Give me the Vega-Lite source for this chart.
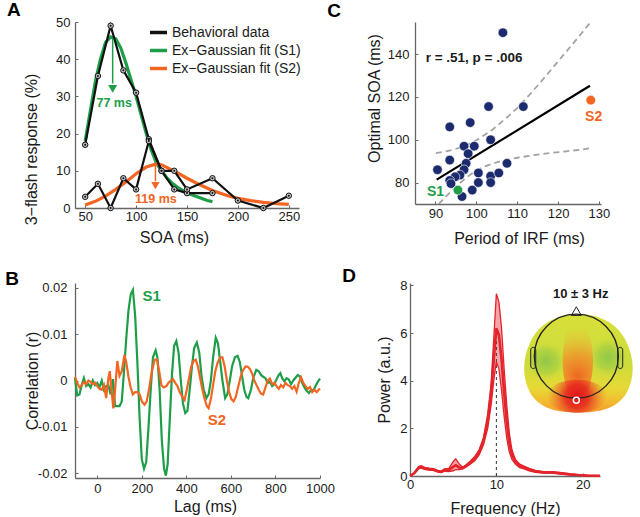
{
"$schema": "https://vega.github.io/schema/vega-lite/v6.json",
"padding": {"left": 5, "top": 1, "right": 0, "bottom": 0},
"config": {
  "font": "Liberation Sans",
  "view": {"stroke": null},
  "axis": {"grid": false, "labelOverlap": false, "labelFlush": false, "minExtent": 0, "domainColor": "#666666", "domainWidth": 1.3, "tickColor": "#666666", "tickSize": -3, "tickWidth": 1, "labelFontSize": 13, "labelColor": "#1a1a1a", "titleFontSize": 16, "titleFontWeight": "normal", "titleColor": "#1a1a1a", "labelFont": "Liberation Sans", "titleFont": "Liberation Sans"},
  "title": {"fontSize": 19, "fontWeight": "bold", "anchor": "start", "frame": "bounds", "color": "#000000", "font": "Liberation Sans"},
  "text": {"font": "Liberation Sans"}
},
"resolve": {"scale": {"color": "independent", "fill": "independent"}, "legend": {"color": "independent", "fill": "independent"}},
"datasets": {
  "behavA": [
    {"soa": 50, "pct": 17, "subj": "S1", "series": "Behavioral data"},
    {"soa": 62.5, "pct": 35.5, "subj": "S1", "series": "Behavioral data"},
    {"soa": 75, "pct": 49, "subj": "S1", "series": "Behavioral data"},
    {"soa": 87.5, "pct": 37, "subj": "S1", "series": "Behavioral data"},
    {"soa": 100, "pct": 31, "subj": "S1", "series": "Behavioral data"},
    {"soa": 112.5, "pct": 18.5, "subj": "S1", "series": "Behavioral data"},
    {"soa": 125, "pct": 10, "subj": "S1", "series": "Behavioral data"},
    {"soa": 137.5, "pct": 5, "subj": "S1", "series": "Behavioral data"},
    {"soa": 150, "pct": 4, "subj": "S1", "series": "Behavioral data"},
    {"soa": 175, "pct": 4, "subj": "S1", "series": "Behavioral data"},
    {"soa": 50, "pct": 3, "subj": "S2", "series": "Behavioral data"},
    {"soa": 62.5, "pct": 6.5, "subj": "S2", "series": "Behavioral data"},
    {"soa": 75, "pct": 0, "subj": "S2", "series": "Behavioral data"},
    {"soa": 87.5, "pct": 8, "subj": "S2", "series": "Behavioral data"},
    {"soa": 100, "pct": 5, "subj": "S2", "series": "Behavioral data"},
    {"soa": 112.5, "pct": 18, "subj": "S2", "series": "Behavioral data"},
    {"soa": 125, "pct": 10, "subj": "S2", "series": "Behavioral data"},
    {"soa": 137.5, "pct": 10, "subj": "S2", "series": "Behavioral data"},
    {"soa": 150, "pct": 5, "subj": "S2", "series": "Behavioral data"},
    {"soa": 175, "pct": 8, "subj": "S2", "series": "Behavioral data"},
    {"soa": 200, "pct": 2, "subj": "S2", "series": "Behavioral data"},
    {"soa": 225, "pct": 0, "subj": "S2", "series": "Behavioral data"},
    {"soa": 250, "pct": 3.3, "subj": "S2", "series": "Behavioral data"}
  ],
  "fitA": [
    {"soa": 50, "pct": 18, "series": "Ex−Gaussian fit (S1)"},
    {"soa": 55, "pct": 26, "series": "Ex−Gaussian fit (S1)"},
    {"soa": 60, "pct": 34, "series": "Ex−Gaussian fit (S1)"},
    {"soa": 65, "pct": 40, "series": "Ex−Gaussian fit (S1)"},
    {"soa": 70, "pct": 44.5, "series": "Ex−Gaussian fit (S1)"},
    {"soa": 75, "pct": 46, "series": "Ex−Gaussian fit (S1)"},
    {"soa": 80, "pct": 45.5, "series": "Ex−Gaussian fit (S1)"},
    {"soa": 85, "pct": 43, "series": "Ex−Gaussian fit (S1)"},
    {"soa": 90, "pct": 39, "series": "Ex−Gaussian fit (S1)"},
    {"soa": 95, "pct": 34.5, "series": "Ex−Gaussian fit (S1)"},
    {"soa": 100, "pct": 30, "series": "Ex−Gaussian fit (S1)"},
    {"soa": 105, "pct": 25, "series": "Ex−Gaussian fit (S1)"},
    {"soa": 110, "pct": 20, "series": "Ex−Gaussian fit (S1)"},
    {"soa": 115, "pct": 15.5, "series": "Ex−Gaussian fit (S1)"},
    {"soa": 120, "pct": 12, "series": "Ex−Gaussian fit (S1)"},
    {"soa": 125, "pct": 10, "series": "Ex−Gaussian fit (S1)"},
    {"soa": 130, "pct": 8.2, "series": "Ex−Gaussian fit (S1)"},
    {"soa": 135, "pct": 6.8, "series": "Ex−Gaussian fit (S1)"},
    {"soa": 140, "pct": 5.7, "series": "Ex−Gaussian fit (S1)"},
    {"soa": 150, "pct": 4, "series": "Ex−Gaussian fit (S1)"},
    {"soa": 160, "pct": 3, "series": "Ex−Gaussian fit (S1)"},
    {"soa": 170, "pct": 2, "series": "Ex−Gaussian fit (S1)"},
    {"soa": 175, "pct": 1.7, "series": "Ex−Gaussian fit (S1)"},
    {"soa": 50, "pct": 0.8, "series": "Ex−Gaussian fit (S2)"},
    {"soa": 60, "pct": 1.8, "series": "Ex−Gaussian fit (S2)"},
    {"soa": 70, "pct": 3.2, "series": "Ex−Gaussian fit (S2)"},
    {"soa": 80, "pct": 5, "series": "Ex−Gaussian fit (S2)"},
    {"soa": 90, "pct": 7, "series": "Ex−Gaussian fit (S2)"},
    {"soa": 100, "pct": 9.2, "series": "Ex−Gaussian fit (S2)"},
    {"soa": 110, "pct": 11, "series": "Ex−Gaussian fit (S2)"},
    {"soa": 119, "pct": 11.8, "series": "Ex−Gaussian fit (S2)"},
    {"soa": 125, "pct": 11.6, "series": "Ex−Gaussian fit (S2)"},
    {"soa": 132.5, "pct": 10.6, "series": "Ex−Gaussian fit (S2)"},
    {"soa": 140, "pct": 9.6, "series": "Ex−Gaussian fit (S2)"},
    {"soa": 150, "pct": 8, "series": "Ex−Gaussian fit (S2)"},
    {"soa": 160, "pct": 6.6, "series": "Ex−Gaussian fit (S2)"},
    {"soa": 175, "pct": 4.7, "series": "Ex−Gaussian fit (S2)"},
    {"soa": 190, "pct": 3.3, "series": "Ex−Gaussian fit (S2)"},
    {"soa": 200, "pct": 2.6, "series": "Ex−Gaussian fit (S2)"},
    {"soa": 212.5, "pct": 2, "series": "Ex−Gaussian fit (S2)"},
    {"soa": 225, "pct": 1.5, "series": "Ex−Gaussian fit (S2)"},
    {"soa": 237.5, "pct": 1.2, "series": "Ex−Gaussian fit (S2)"},
    {"soa": 250, "pct": 1.0, "series": "Ex−Gaussian fit (S2)"}
  ],
  "corrB": [
    {"lag": -100, "r": 0.0005, "subj": "S1"}, {"lag": -90, "r": -0.0032, "subj": "S1"}, {"lag": -80, "r": -0.003, "subj": "S1"}, {"lag": -70, "r": -0.001, "subj": "S1"},
    {"lag": -60, "r": 0.0005, "subj": "S1"}, {"lag": -50, "r": -0.0012, "subj": "S1"}, {"lag": -40, "r": -0.0008, "subj": "S1"}, {"lag": -30, "r": -0.0015, "subj": "S1"},
    {"lag": -20, "r": 0, "subj": "S1"}, {"lag": -10, "r": -0.001, "subj": "S1"}, {"lag": 0, "r": -0.0005, "subj": "S1"}, {"lag": 10, "r": -0.0015, "subj": "S1"},
    {"lag": 20, "r": 0, "subj": "S1"}, {"lag": 30, "r": -0.002, "subj": "S1"}, {"lag": 40, "r": -0.0012, "subj": "S1"}, {"lag": 50, "r": -0.001, "subj": "S1"},
    {"lag": 60, "r": -0.003, "subj": "S1"}, {"lag": 70, "r": 0.0003, "subj": "S1"}, {"lag": 80, "r": -0.0055, "subj": "S1"}, {"lag": 90, "r": -0.0055, "subj": "S1"},
    {"lag": 100, "r": -0.0055, "subj": "S1"}, {"lag": 110, "r": -0.0045, "subj": "S1"}, {"lag": 120, "r": 0.002, "subj": "S1"}, {"lag": 130, "r": 0.009, "subj": "S1"},
    {"lag": 140, "r": 0.015, "subj": "S1"}, {"lag": 150, "r": 0.0185, "subj": "S1"}, {"lag": 160, "r": 0.0195, "subj": "S1"}, {"lag": 170, "r": 0.014, "subj": "S1"},
    {"lag": 180, "r": 0.004, "subj": "S1"}, {"lag": 190, "r": -0.008, "subj": "S1"}, {"lag": 200, "r": -0.017, "subj": "S1"}, {"lag": 210, "r": -0.019, "subj": "S1"},
    {"lag": 220, "r": -0.0175, "subj": "S1"}, {"lag": 230, "r": -0.01, "subj": "S1"}, {"lag": 240, "r": -0.002, "subj": "S1"}, {"lag": 250, "r": 0.005, "subj": "S1"},
    {"lag": 262, "r": 0.0065, "subj": "S1"}, {"lag": 270, "r": 0.005, "subj": "S1"}, {"lag": 280, "r": -0.002, "subj": "S1"}, {"lag": 290, "r": -0.013, "subj": "S1"},
    {"lag": 300, "r": -0.019, "subj": "S1"}, {"lag": 308, "r": -0.0205, "subj": "S1"}, {"lag": 316, "r": -0.018, "subj": "S1"}, {"lag": 325, "r": -0.009, "subj": "S1"},
    {"lag": 335, "r": 0.001, "subj": "S1"}, {"lag": 345, "r": 0.0075, "subj": "S1"}, {"lag": 355, "r": 0.0085, "subj": "S1"}, {"lag": 365, "r": 0.006, "subj": "S1"},
    {"lag": 375, "r": 0, "subj": "S1"}, {"lag": 385, "r": -0.005, "subj": "S1"}, {"lag": 395, "r": -0.007, "subj": "S1"}, {"lag": 405, "r": -0.0065, "subj": "S1"},
    {"lag": 415, "r": -0.002, "subj": "S1"}, {"lag": 425, "r": 0.003, "subj": "S1"}, {"lag": 435, "r": 0.007, "subj": "S1"}, {"lag": 447, "r": 0.0082, "subj": "S1"},
    {"lag": 458, "r": 0.006, "subj": "S1"}, {"lag": 468, "r": 0.001, "subj": "S1"}, {"lag": 478, "r": -0.002, "subj": "S1"}, {"lag": 490, "r": -0.0038, "subj": "S1"},
    {"lag": 500, "r": -0.003, "subj": "S1"}, {"lag": 510, "r": 0, "subj": "S1"}, {"lag": 520, "r": 0.005, "subj": "S1"}, {"lag": 532, "r": 0.0092, "subj": "S1"},
    {"lag": 542, "r": 0.008, "subj": "S1"}, {"lag": 552, "r": 0.004, "subj": "S1"}, {"lag": 562, "r": 0, "subj": "S1"}, {"lag": 574, "r": -0.0038, "subj": "S1"},
    {"lag": 584, "r": -0.003, "subj": "S1"}, {"lag": 595, "r": 0, "subj": "S1"}, {"lag": 605, "r": 0.003, "subj": "S1"}, {"lag": 618, "r": 0.005, "subj": "S1"},
    {"lag": 630, "r": 0.0053, "subj": "S1"}, {"lag": 640, "r": 0.004, "subj": "S1"}, {"lag": 650, "r": 0.001, "subj": "S1"}, {"lag": 660, "r": -0.002, "subj": "S1"},
    {"lag": 670, "r": -0.0035, "subj": "S1"}, {"lag": 678, "r": -0.0038, "subj": "S1"}, {"lag": 690, "r": -0.002, "subj": "S1"}, {"lag": 700, "r": 0.0005, "subj": "S1"},
    {"lag": 714, "r": 0.0023, "subj": "S1"}, {"lag": 725, "r": 0.002, "subj": "S1"}, {"lag": 735, "r": 0.0012, "subj": "S1"}, {"lag": 745, "r": 0.0008, "subj": "S1"},
    {"lag": 755, "r": 0.0005, "subj": "S1"}, {"lag": 765, "r": -0.0005, "subj": "S1"}, {"lag": 775, "r": -0.0003, "subj": "S1"}, {"lag": 785, "r": -0.0012, "subj": "S1"},
    {"lag": 795, "r": -0.0008, "subj": "S1"}, {"lag": 805, "r": 0.0003, "subj": "S1"}, {"lag": 815, "r": 0.0012, "subj": "S1"}, {"lag": 822, "r": 0.0016, "subj": "S1"},
    {"lag": 830, "r": 0.0005, "subj": "S1"}, {"lag": 840, "r": -0.0002, "subj": "S1"}, {"lag": 850, "r": 0.0005, "subj": "S1"}, {"lag": 860, "r": 0.0002, "subj": "S1"},
    {"lag": 870, "r": -0.0008, "subj": "S1"}, {"lag": 880, "r": 0, "subj": "S1"}, {"lag": 890, "r": 0.0006, "subj": "S1"}, {"lag": 900, "r": 0.0012, "subj": "S1"},
    {"lag": 911, "r": 0.0008, "subj": "S1"}, {"lag": 920, "r": -0.0005, "subj": "S1"}, {"lag": 930, "r": -0.0015, "subj": "S1"}, {"lag": 940, "r": -0.0022, "subj": "S1"},
    {"lag": 950, "r": -0.0027, "subj": "S1"}, {"lag": 960, "r": -0.002, "subj": "S1"}, {"lag": 970, "r": -0.0022, "subj": "S1"}, {"lag": 980, "r": -0.0012, "subj": "S1"},
    {"lag": 990, "r": -0.0003, "subj": "S1"}, {"lag": 1000, "r": 0.0004, "subj": "S1"},
    {"lag": -100, "r": 0.0008, "subj": "S2"}, {"lag": -90, "r": -0.0005, "subj": "S2"}, {"lag": -80, "r": -0.0015, "subj": "S2"}, {"lag": -70, "r": -0.001, "subj": "S2"},
    {"lag": -60, "r": -0.0003, "subj": "S2"}, {"lag": -50, "r": -0.0008, "subj": "S2"}, {"lag": -40, "r": 0, "subj": "S2"}, {"lag": -30, "r": -0.0003, "subj": "S2"},
    {"lag": -20, "r": -0.0008, "subj": "S2"}, {"lag": -10, "r": -0.0005, "subj": "S2"}, {"lag": 0, "r": -0.0012, "subj": "S2"}, {"lag": 10, "r": -0.0018, "subj": "S2"},
    {"lag": 20, "r": -0.002, "subj": "S2"}, {"lag": 30, "r": -0.001, "subj": "S2"}, {"lag": 40, "r": -0.0038, "subj": "S2"}, {"lag": 50, "r": 0.0005, "subj": "S2"},
    {"lag": 56, "r": 0.002, "subj": "S2"}, {"lag": 64, "r": -0.002, "subj": "S2"}, {"lag": 72, "r": -0.006, "subj": "S2"}, {"lag": 80, "r": -0.002, "subj": "S2"},
    {"lag": 90, "r": 0.0042, "subj": "S2"}, {"lag": 100, "r": 0.001, "subj": "S2"}, {"lag": 110, "r": 0.002, "subj": "S2"}, {"lag": 122, "r": 0.0055, "subj": "S2"},
    {"lag": 130, "r": 0.004, "subj": "S2"}, {"lag": 140, "r": 0.0008, "subj": "S2"}, {"lag": 150, "r": -0.0015, "subj": "S2"}, {"lag": 160, "r": -0.003, "subj": "S2"},
    {"lag": 170, "r": -0.0025, "subj": "S2"}, {"lag": 180, "r": -0.0025, "subj": "S2"}, {"lag": 190, "r": -0.003, "subj": "S2"}, {"lag": 200, "r": -0.0045, "subj": "S2"},
    {"lag": 212, "r": -0.0052, "subj": "S2"}, {"lag": 222, "r": -0.0045, "subj": "S2"}, {"lag": 232, "r": -0.002, "subj": "S2"}, {"lag": 245, "r": 0.002, "subj": "S2"},
    {"lag": 258, "r": 0.0045, "subj": "S2"}, {"lag": 268, "r": 0.0045, "subj": "S2"}, {"lag": 278, "r": 0.002, "subj": "S2"}, {"lag": 288, "r": -0.001, "subj": "S2"},
    {"lag": 298, "r": -0.0015, "subj": "S2"}, {"lag": 310, "r": -0.0012, "subj": "S2"}, {"lag": 320, "r": -0.0005, "subj": "S2"}, {"lag": 330, "r": 0, "subj": "S2"},
    {"lag": 340, "r": 0.0003, "subj": "S2"}, {"lag": 350, "r": -0.0005, "subj": "S2"}, {"lag": 360, "r": -0.0012, "subj": "S2"}, {"lag": 370, "r": -0.0025, "subj": "S2"},
    {"lag": 382, "r": -0.0035, "subj": "S2"}, {"lag": 392, "r": -0.0042, "subj": "S2"}, {"lag": 402, "r": -0.002, "subj": "S2"}, {"lag": 412, "r": 0.0005, "subj": "S2"},
    {"lag": 422, "r": 0.003, "subj": "S2"}, {"lag": 432, "r": 0.0042, "subj": "S2"}, {"lag": 442, "r": 0.0045, "subj": "S2"}, {"lag": 452, "r": 0.003, "subj": "S2"},
    {"lag": 462, "r": 0.0005, "subj": "S2"}, {"lag": 472, "r": -0.002, "subj": "S2"}, {"lag": 482, "r": -0.004, "subj": "S2"}, {"lag": 492, "r": -0.0055, "subj": "S2"},
    {"lag": 500, "r": -0.006, "subj": "S2"}, {"lag": 510, "r": -0.004, "subj": "S2"}, {"lag": 520, "r": -0.001, "subj": "S2"}, {"lag": 530, "r": 0.002, "subj": "S2"},
    {"lag": 540, "r": 0.0038, "subj": "S2"}, {"lag": 552, "r": 0.005, "subj": "S2"}, {"lag": 562, "r": 0.005, "subj": "S2"}, {"lag": 572, "r": 0.003, "subj": "S2"},
    {"lag": 582, "r": 0, "subj": "S2"}, {"lag": 592, "r": -0.0025, "subj": "S2"}, {"lag": 602, "r": -0.004, "subj": "S2"}, {"lag": 612, "r": -0.0045, "subj": "S2"},
    {"lag": 622, "r": -0.0035, "subj": "S2"}, {"lag": 632, "r": -0.0015, "subj": "S2"}, {"lag": 642, "r": 0.0005, "subj": "S2"}, {"lag": 652, "r": 0.002, "subj": "S2"},
    {"lag": 665, "r": 0.003, "subj": "S2"}, {"lag": 675, "r": 0.003, "subj": "S2"}, {"lag": 685, "r": 0.0025, "subj": "S2"}, {"lag": 695, "r": 0.0015, "subj": "S2"},
    {"lag": 705, "r": 0, "subj": "S2"}, {"lag": 715, "r": -0.001, "subj": "S2"}, {"lag": 725, "r": -0.002, "subj": "S2"}, {"lag": 735, "r": -0.0028, "subj": "S2"},
    {"lag": 745, "r": -0.003, "subj": "S2"}, {"lag": 755, "r": -0.0015, "subj": "S2"}, {"lag": 765, "r": 0, "subj": "S2"}, {"lag": 775, "r": 0.0004, "subj": "S2"},
    {"lag": 785, "r": -0.0008, "subj": "S2"}, {"lag": 795, "r": -0.0005, "subj": "S2"}, {"lag": 805, "r": -0.0012, "subj": "S2"}, {"lag": 815, "r": -0.0018, "subj": "S2"},
    {"lag": 825, "r": -0.001, "subj": "S2"}, {"lag": 835, "r": -0.0015, "subj": "S2"}, {"lag": 845, "r": -0.0005, "subj": "S2"}, {"lag": 855, "r": -0.001, "subj": "S2"},
    {"lag": 865, "r": -0.0012, "subj": "S2"}, {"lag": 875, "r": -0.0018, "subj": "S2"}, {"lag": 885, "r": -0.0012, "subj": "S2"}, {"lag": 895, "r": -0.0024, "subj": "S2"},
    {"lag": 905, "r": -0.0005, "subj": "S2"}, {"lag": 915, "r": 0.0007, "subj": "S2"}, {"lag": 925, "r": -0.0005, "subj": "S2"}, {"lag": 935, "r": -0.0012, "subj": "S2"},
    {"lag": 945, "r": -0.0018, "subj": "S2"}, {"lag": 955, "r": -0.0014, "subj": "S2"}, {"lag": 965, "r": -0.0025, "subj": "S2"}, {"lag": 975, "r": -0.002, "subj": "S2"},
    {"lag": 985, "r": -0.0025, "subj": "S2"}, {"lag": 1000, "r": -0.0017, "subj": "S2"}
  ],
  "scatC": [
    {"period": 106.5, "soa": 150, "who": "other"}, {"period": 103, "soa": 115.5, "who": "other"}, {"period": 111.5, "soa": 115.5, "who": "other"},
    {"period": 93.5, "soa": 106, "who": "other"}, {"period": 98.5, "soa": 108, "who": "other"}, {"period": 97, "soa": 97, "who": "other"},
    {"period": 99.5, "soa": 97, "who": "other"}, {"period": 103.5, "soa": 100, "who": "other"}, {"period": 93.5, "soa": 90.5, "who": "other"},
    {"period": 98, "soa": 93.5, "who": "other"}, {"period": 97.5, "soa": 89, "who": "other"}, {"period": 90.5, "soa": 86, "who": "other"},
    {"period": 107.5, "soa": 89, "who": "other"}, {"period": 97, "soa": 86, "who": "other"}, {"period": 96, "soa": 83.5, "who": "other"},
    {"period": 94.8, "soa": 82.7, "who": "other"}, {"period": 93.5, "soa": 81, "who": "other"}, {"period": 93.8, "soa": 79.5, "who": "other"},
    {"period": 100.5, "soa": 84.5, "who": "other"}, {"period": 100.5, "soa": 80, "who": "other"}, {"period": 103.5, "soa": 83, "who": "other"},
    {"period": 103.5, "soa": 80, "who": "other"}, {"period": 105.5, "soa": 84.5, "who": "other"}, {"period": 99, "soa": 76.5, "who": "other"},
    {"period": 96.5, "soa": 73.5, "who": "other"},
    {"period": 95.5, "soa": 76.5, "who": "S1"}, {"period": 128, "soa": 118.5, "who": "S2"}
  ],
  "bandC": [
    {"period": 90.1, "soa": 93.8, "band": "upper"}, {"period": 92, "soa": 94.4, "band": "upper"}, {"period": 94, "soa": 95.2, "band": "upper"},
    {"period": 96, "soa": 96.3, "band": "upper"}, {"period": 98, "soa": 97.8, "band": "upper"}, {"period": 100, "soa": 99.8, "band": "upper"},
    {"period": 102, "soa": 102.2, "band": "upper"}, {"period": 104, "soa": 104.8, "band": "upper"}, {"period": 106, "soa": 108, "band": "upper"},
    {"period": 108, "soa": 111.3, "band": "upper"}, {"period": 110, "soa": 114.8, "band": "upper"}, {"period": 113, "soa": 121, "band": "upper"},
    {"period": 116, "soa": 127.5, "band": "upper"}, {"period": 120, "soa": 136.6, "band": "upper"}, {"period": 124, "soa": 145.7, "band": "upper"},
    {"period": 127.8, "soa": 154.5, "band": "upper"},
    {"period": 90.8, "soa": 70, "band": "lower"}, {"period": 92, "soa": 72.4, "band": "lower"}, {"period": 94, "soa": 76.3, "band": "lower"},
    {"period": 96, "soa": 79.8, "band": "lower"}, {"period": 98, "soa": 83, "band": "lower"}, {"period": 100, "soa": 85.6, "band": "lower"},
    {"period": 102, "soa": 87.5, "band": "lower"}, {"period": 104, "soa": 88.9, "band": "lower"}, {"period": 106, "soa": 90, "band": "lower"},
    {"period": 110, "soa": 91.6, "band": "lower"}, {"period": 114, "soa": 92.8, "band": "lower"}, {"period": 118, "soa": 93.8, "band": "lower"},
    {"period": 122, "soa": 94.6, "band": "lower"}, {"period": 126, "soa": 95.5, "band": "lower"}, {"period": 127.8, "soa": 96, "band": "lower"}
  ],
  "psd": [
    {"f": 0, "lo": 0, "mean": 0, "hi": 0}, {"f": 0.5, "lo": 0.1, "mean": 0.12, "hi": 0.14}, {"f": 1.0, "lo": 0.3, "mean": 0.35, "hi": 0.4},
    {"f": 1.3, "lo": 0.33, "mean": 0.38, "hi": 0.43}, {"f": 1.7, "lo": 0.28, "mean": 0.32, "hi": 0.36}, {"f": 2.2, "lo": 0.25, "mean": 0.29, "hi": 0.33},
    {"f": 2.7, "lo": 0.24, "mean": 0.27, "hi": 0.31}, {"f": 3.2, "lo": 0.17, "mean": 0.2, "hi": 0.24}, {"f": 3.6, "lo": 0.14, "mean": 0.17, "hi": 0.2},
    {"f": 4.0, "lo": 0.2, "mean": 0.26, "hi": 0.3}, {"f": 4.5, "lo": 0.18, "mean": 0.25, "hi": 0.32}, {"f": 5.0, "lo": 0.22, "mean": 0.38, "hi": 0.6},
    {"f": 5.3, "lo": 0.27, "mean": 0.45, "hi": 0.72}, {"f": 5.7, "lo": 0.27, "mean": 0.36, "hi": 0.5}, {"f": 6.1, "lo": 0.3, "mean": 0.33, "hi": 0.38},
    {"f": 6.5, "lo": 0.38, "mean": 0.42, "hi": 0.47}, {"f": 7.0, "lo": 0.5, "mean": 0.56, "hi": 0.63}, {"f": 7.5, "lo": 0.64, "mean": 0.72, "hi": 0.82},
    {"f": 8.0, "lo": 0.88, "mean": 0.98, "hi": 1.1}, {"f": 8.5, "lo": 1.3, "mean": 1.45, "hi": 1.6}, {"f": 9.0, "lo": 2.0, "mean": 2.3, "hi": 2.6},
    {"f": 9.4, "lo": 3.0, "mean": 3.5, "hi": 3.9}, {"f": 9.7, "lo": 4.0, "mean": 4.9, "hi": 5.8}, {"f": 10.0, "lo": 4.8, "mean": 6.2, "hi": 7.65},
    {"f": 10.3, "lo": 4.5, "mean": 5.9, "hi": 7.3}, {"f": 10.6, "lo": 3.6, "mean": 4.9, "hi": 6.2}, {"f": 10.9, "lo": 2.5, "mean": 3.5, "hi": 4.5},
    {"f": 11.2, "lo": 1.6, "mean": 2.3, "hi": 3.0}, {"f": 11.5, "lo": 1.0, "mean": 1.4, "hi": 1.8}, {"f": 11.8, "lo": 0.7, "mean": 0.9, "hi": 1.1},
    {"f": 12.2, "lo": 0.5, "mean": 0.6, "hi": 0.7}, {"f": 12.7, "lo": 0.35, "mean": 0.42, "hi": 0.5}, {"f": 13.2, "lo": 0.3, "mean": 0.35, "hi": 0.42},
    {"f": 13.8, "lo": 0.22, "mean": 0.27, "hi": 0.32}, {"f": 14.5, "lo": 0.15, "mean": 0.2, "hi": 0.24}, {"f": 15.5, "lo": 0.12, "mean": 0.15, "hi": 0.18},
    {"f": 16.5, "lo": 0.12, "mean": 0.15, "hi": 0.18}, {"f": 17.5, "lo": 0.08, "mean": 0.11, "hi": 0.14}, {"f": 18.5, "lo": 0.05, "mean": 0.07, "hi": 0.09},
    {"f": 19.5, "lo": 0.03, "mean": 0.04, "hi": 0.05}, {"f": 20.5, "lo": 0.01, "mean": 0.02, "hi": 0.03}, {"f": 22, "lo": 0, "mean": 0.01, "hi": 0.01}
  ]
},
"spacing": 21,
"vconcat": [
 {"spacing": 26, "resolve": {"scale": {"color": "independent", "fill": "independent"}, "legend": {"color": "independent", "fill": "independent"}}, "hconcat": [
  {
   "width": 224, "height": 186,
   "title": {"text": "A", "dx": -16, "offset": -4},
   "encoding": {
     "x": {"field": "soa", "type": "quantitative", "scale": {"domain": [40, 260], "nice": false}, "axis": {"values": [50, 100, 150, 200, 250], "title": "SOA (ms)", "labelPadding": 5, "titlePadding": 6, "titleX": 99, "titleAlign": "center"}},
     "y": {"field": "pct", "type": "quantitative", "scale": {"domain": [0, 50], "nice": false}, "axis": {"values": [0, 10, 20, 30, 40, 50], "labelOverlap": false, "minExtent": 0, "title": "3−flash response (%)", "titleFontSize": 16, "labelFontSize": 13, "labelPadding": 8, "titlePadding": 17, "titleX": -36, "titleY": 127, "titleAlign": "center", "titleAngle": -90, "titleBaseline": "bottom"}}
   },
   "layer": [
    {"data": {"name": "fitA"}, "mark": {"type": "line", "strokeWidth": 3.2},
     "encoding": {
      "color": {"field": "series", "type": "nominal", "scale": {"domain": ["Behavioral data", "Ex−Gaussian fit (S1)", "Ex−Gaussian fit (S2)"], "range": ["#111111", "#1f9e4a", "#f26522"]},
        "legend": {"orient": "none", "legendX": 73, "legendY": 0, "title": null, "symbolType": "stroke", "symbolSize": 290, "symbolStrokeWidth": 3.5, "labelFontSize": 14, "labelFont": "Liberation Sans", "labelColor": "#1a1a1a", "rowPadding": -2, "labelOffset": 3, "padding": 0, "labelLimit": 200}}
     }},
    {"data": {"name": "behavA"}, "mark": {"type": "line", "strokeWidth": 2.2},
     "encoding": {"color": {"field": "series", "type": "nominal"}, "detail": {"field": "subj"}}},
    {"data": {"name": "behavA"}, "mark": {"type": "point", "filled": true, "fill": "#bdbdbd", "stroke": "#111111", "strokeWidth": 1, "size": 30, "opacity": 1}},
    {"data": {"name": "behavA"}, "mark": {"type": "point", "filled": true, "fill": "#111111", "strokeWidth": 0, "size": 4, "opacity": 1}},
    {"data": {"values": [{"soa": 77, "pct": 45.5, "pct2": 33.5}]}, "mark": {"type": "rule", "color": "#1f9e4a", "strokeWidth": 1.5},
     "encoding": {"y2": {"field": "pct2"}}},
    {"data": {"values": [{"soa": 77, "pct": 32}]}, "mark": {"type": "point", "shape": "triangle-down", "filled": true, "color": "#1f9e4a", "size": 81, "opacity": 1}},
    {"data": {"values": [{"soa": 78.5, "pct": 28.3, "label": "77 ms"}]}, "mark": {"type": "text", "color": "#1f9e4a", "fontWeight": "bold", "fontSize": 12.5, "baseline": "middle", "align": "center"},
     "encoding": {"text": {"field": "label"}}},
    {"data": {"values": [{"soa": 119, "pct": 11.3, "pct2": 7.2}]}, "mark": {"type": "rule", "color": "#f26522", "strokeWidth": 1.5},
     "encoding": {"y2": {"field": "pct2"}}},
    {"data": {"values": [{"soa": 119, "pct": 6}]}, "mark": {"type": "point", "shape": "triangle-down", "filled": true, "color": "#f26522", "size": 70, "opacity": 1}},
    {"data": {"values": [{"soa": 119.5, "pct": 2.3, "label": "119 ms"}]}, "mark": {"type": "text", "color": "#f26522", "fontWeight": "bold", "fontSize": 12.5, "baseline": "middle", "align": "center"},
     "encoding": {"text": {"field": "label"}}}
   ]
  },
  {
   "width": 186, "height": 182,
   "title": {"text": "C", "dx": -39, "offset": 1},
   "encoding": {
     "x": {"field": "period", "type": "quantitative", "scale": {"domain": [85, 130.5], "nice": false, "zero": false}, "axis": {"values": [90, 100, 110, 120, 130], "title": "Period of IRF (ms)", "labelPadding": 6, "titlePadding": 10, "titleX": 104, "titleAlign": "center"}},
     "y": {"field": "soa", "type": "quantitative", "scale": {"domain": [70, 155], "nice": false, "zero": false}, "axis": {"values": [80, 100, 120, 140], "title": "Optimal SOA (ms)", "labelPadding": 9, "titlePadding": 5, "titleY": 76, "titleAlign": "center"}}
   },
   "layer": [
    {"data": {"name": "bandC"}, "mark": {"type": "line", "stroke": "#a3a3a3", "strokeWidth": 1.8, "strokeDash": [6, 4], "clip": true},
     "encoding": {"detail": {"field": "band"}}},
    {"data": {"values": [{"period": 90.3, "soa": 81.4}, {"period": 127.8, "soa": 125.2}]}, "mark": {"type": "line", "color": "#000000", "strokeWidth": 2.2}},
    {"data": {"name": "scatC"}, "mark": {"type": "point", "filled": true, "size": 92, "stroke": "#ffffff", "strokeWidth": 0.6, "opacity": 1},
     "encoding": {"fill": {"field": "who", "type": "nominal", "scale": {"domain": ["other", "S1", "S2"], "range": ["#1c2a6e", "#1f9e4a", "#f26522"]}, "legend": null}}},
    {"data": {"values": [{"period": 87.6, "soa": 138, "label": "r = .51, p = .006"}]}, "mark": {"type": "text", "fontWeight": "bold", "fontSize": 13.5, "align": "left", "baseline": "middle", "color": "#1a1a1a"},
     "encoding": {"text": {"field": "label"}}},
    {"data": {"values": [{"period": 90.0, "soa": 75.7, "label": "S1"}]}, "mark": {"type": "text", "fontWeight": "bold", "fontSize": 14, "align": "center", "baseline": "middle", "color": "#1f9e4a"},
     "encoding": {"text": {"field": "label"}}},
    {"data": {"values": [{"period": 128.7, "soa": 110.8, "label": "S2"}]}, "mark": {"type": "text", "fontWeight": "bold", "fontSize": 14, "align": "center", "baseline": "middle", "color": "#f26522"},
     "encoding": {"text": {"field": "label"}}}
   ]
  }
 ]},
 {"spacing": 7, "resolve": {"scale": {"color": "independent", "fill": "independent"}, "legend": {"color": "independent", "fill": "independent"}}, "hconcat": [
  {
   "width": 245, "height": 195,
   "title": {"text": "B", "dx": -19, "offset": -7},
   "encoding": {
     "x": {"field": "lag", "type": "quantitative", "scale": {"domain": [-100, 1000], "nice": false}, "axis": {"values": [0, 200, 400, 600, 800, 1000], "format": "d", "title": "Lag (ms)", "labelPadding": 7.5, "titlePadding": 3, "titleX": 130, "titleAlign": "center"}},
     "y": {"field": "r", "type": "quantitative", "scale": {"domain": [-0.021, 0.021], "nice": false, "zero": false}, "axis": {"values": [-0.02, -0.01, 0, 0.01, 0.02], "title": "Correlation (r)", "labelPadding": 11, "titlePadding": -3, "labelExpr": "datum.value == 0 ? '0' : replace(format(datum.value, '.2f'), '\u2212', '-')"}}
   },
   "layer": [
    {"data": {"name": "corrB"}, "mark": {"type": "line", "strokeWidth": 2.2},
     "encoding": {"color": {"field": "subj", "type": "nominal", "scale": {"domain": ["S1", "S2"], "range": ["#1f9e4a", "#f26522"]}, "legend": null}}},
    {"data": {"values": [{"lag": 244, "r": 0.0183, "label": "S1"}]}, "mark": {"type": "text", "fontWeight": "bold", "fontSize": 15, "align": "center", "baseline": "middle", "color": "#1f9e4a"},
     "encoding": {"text": {"field": "label"}}},
    {"data": {"values": [{"lag": 537, "r": -0.0084, "label": "S2"}]}, "mark": {"type": "text", "fontWeight": "bold", "fontSize": 15, "align": "center", "baseline": "middle", "color": "#f26522"},
     "encoding": {"text": {"field": "label"}}}
   ]
  },
  {
   "width": 190, "height": 193,
   "title": {"text": "D", "dx": -34, "offset": -7},
   "encoding": {
     "x": {"field": "f", "type": "quantitative", "scale": {"domain": [0, 22], "nice": false}, "axis": {"values": [0, 10, 20], "title": "Frequency (Hz)", "labelPadding": 5, "titlePadding": 9}},
     "y": {"field": "lo", "type": "quantitative", "scale": {"domain": [0, 8.1], "nice": false}, "axis": {"values": [0, 2, 4, 6, 8], "title": "Power (a.u.)", "labelPadding": 6, "titlePadding": 7.5}}
   },
   "layer": [
    {"data": {"name": "psd"}, "mark": {"type": "area", "color": "#f4a5aa", "opacity": 1},
     "encoding": {"y2": {"field": "hi"}}},
    {"data": {"values": [{"f": 10, "lo": 0, "hi": 6.2}]}, "mark": {"type": "rule", "strokeDash": [3, 3], "color": "#333333", "strokeWidth": 1},
     "encoding": {"y2": {"field": "hi"}}},
    {"data": {"name": "psd"}, "mark": {"type": "line", "color": "#e3242b", "strokeWidth": 1.3}},
    {"data": {"name": "psd"}, "mark": {"type": "line", "color": "#e3242b", "strokeWidth": 1.3},
     "encoding": {"y": {"field": "hi", "type": "quantitative"}}},
    {"data": {"name": "psd"}, "mark": {"type": "line", "color": "#e3242b", "strokeWidth": 2.6},
     "encoding": {"y": {"field": "mean", "type": "quantitative"}}},
    {"data": {"values": [{"f": 19.5, "lo": 4.73}]},
     "mark": {"type": "point", "shape": "M0,-0.875 C0.4,-0.875 0.7,-0.7 0.85,-0.4 C1.0,-0.1 1.02,0.25 0.85,0.55 C0.65,0.85 0.3,0.88 0,0.88 C-0.3,0.88 -0.65,0.85 -0.85,0.55 C-1.02,0.25 -1.0,-0.1 -0.85,-0.4 C-0.7,-0.7 -0.4,-0.875 0,-0.875 Z", "size": 12544, "filled": true, "strokeWidth": 0, "opacity": 1,
      "fill": {"gradient": "linear", "x1": 0, "y1": 0, "x2": 0, "y2": 1, "stops": [{"offset": 0, "color": "#d8e03a"}, {"offset": 0.5, "color": "#cddc3c"}, {"offset": 0.75, "color": "#e6d936"}, {"offset": 0.9, "color": "#f2b830"}, {"offset": 1, "color": "#f29a2c"}]}}},
    {"data": {"values": [{"f": 15.75, "lo": 4.81}, {"f": 22.93, "lo": 4.98}]},
     "mark": {"type": "point", "shape": "circle", "size": 1600, "filled": true, "strokeWidth": 0, "opacity": 1,
      "fill": {"gradient": "radial", "stops": [{"offset": 0, "color": "rgba(140,198,74,0.95)"}, {"offset": 0.6, "color": "rgba(160,205,66,0.6)"}, {"offset": 1, "color": "rgba(200,220,60,0)"}]}}},
    {"data": {"values": [{"f": 19.43, "lo": 4.85}]},
     "mark": {"type": "point", "shape": "M-0.38,0 A0.38,1 0 1,1 0.38,0 A0.38,1 0 1,1 -0.38,0 Z", "size": 6400, "filled": true, "strokeWidth": 0, "opacity": 1,
      "fill": {"gradient": "radial", "x1": 0.5, "y1": 0.7, "r1": 0, "x2": 0.5, "y2": 0.6, "r2": 0.55, "stops": [{"offset": 0, "color": "rgba(240,95,35,0.95)"}, {"offset": 0.45, "color": "rgba(244,140,40,0.7)"}, {"offset": 1, "color": "rgba(235,200,55,0)"}]}}},
    {"data": {"values": [{"f": 19.33, "lo": 3.35}]},
     "mark": {"type": "point", "shape": "M-1,0 A1,0.55 0 1,1 1,0 A1,0.55 0 1,1 -1,0 Z", "size": 3600, "filled": true, "strokeWidth": 0, "opacity": 1,
      "fill": {"gradient": "radial", "stops": [{"offset": 0, "color": "rgba(225,18,28,1)"}, {"offset": 0.4, "color": "rgba(230,35,30,0.85)"}, {"offset": 1, "color": "rgba(240,110,40,0)"}]}}},
    {"data": {"values": [{"f": 19.26, "lo": 5.03}]},
     "mark": {"type": "point", "shape": "circle", "size": 7056, "filled": false, "stroke": "#222222", "strokeWidth": 1.3, "opacity": 1}},
    {"data": {"values": [{"f": 13.98, "f2": 14.56, "lo": 5.4, "hi": 4.51}, {"f": 24.05, "f2": 24.63, "lo": 5.4, "hi": 4.51}]},
     "mark": {"type": "rect", "fillOpacity": 0, "stroke": "#222222", "strokeWidth": 1, "cornerRadius": 2.5},
     "encoding": {"x2": {"field": "f2"}, "y2": {"field": "hi"}}},
    {"data": {"values": [{"f": 19.26, "lo": 6.92}]},
     "mark": {"type": "point", "shape": "triangle-up", "size": 100, "filled": false, "stroke": "#222222", "strokeWidth": 1, "opacity": 1}},
    {"data": {"values": [{"f": 19.26, "lo": 3.18}]},
     "mark": {"type": "point", "shape": "circle", "size": 36, "filled": false, "stroke": "#ffffff", "strokeWidth": 1.5, "opacity": 1}},
    {"data": {"values": [{"f": 19.77, "lo": 7.64, "label": "10 ± 3 Hz"}]}, "mark": {"type": "text", "fontWeight": "bold", "fontSize": 13, "align": "center", "baseline": "middle", "color": "#1a1a1a"},
     "encoding": {"text": {"field": "label"}}}
   ]
  }
 ]}
]
}
